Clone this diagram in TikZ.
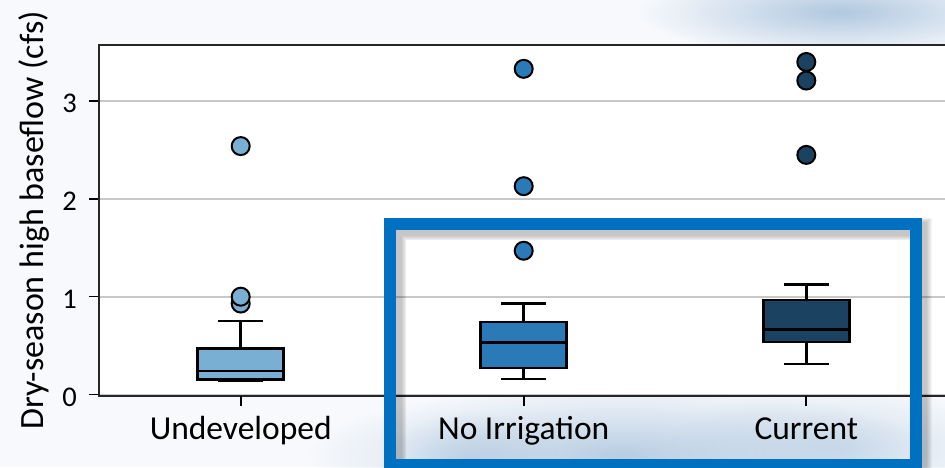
\documentclass[tikz,border=0pt]{standalone}
\usepackage{fontspec}
\usetikzlibrary{fadings}
\setmainfont{Carlito}
\definecolor{bgc}{HTML}{F7F9FC}
\definecolor{mapblue}{HTML}{A9C3DD}
\definecolor{undev}{HTML}{7AAFD4}
\definecolor{noirr}{HTML}{2A7AB8}
\definecolor{curr}{HTML}{1B4361}
\definecolor{hl}{HTML}{0070C0}
\definecolor{gridc}{HTML}{C8C8C8}
\tikzfading[name=blobfade, inner color=transparent!0, outer color=transparent!100]
\newcommand{\boxplt}[7]{%
  \draw[whisk] (#1,#2) -- (#1,#3);
  \draw[whisk] (#1-22.5,#2) -- (#1+22.5,#2);
  \draw[whisk] (#1,#5) -- (#1,#6);
  \draw[whisk] (#1-22.5,#6) -- (#1+22.5,#6);
  \filldraw[boxst, fill=#7] (#1-43,#3) rectangle (#1+43,#5);
  \draw[boxst] (#1-43,#4) -- (#1+43,#4);
}
\begin{document}
\begin{tikzpicture}[x=1pt,y=1pt,
  boxst/.style={draw=black, line width=2.5pt},
  whisk/.style={draw=black, line width=2.5pt},
  outl/.style={draw=black, line width=2pt},
  ticklab/.style={font=\fontsize{28.5}{30}\selectfont, anchor=base east, inner sep=0pt},
  catlab/.style={font=\fontsize{33.5}{36}\selectfont, anchor=base, inner sep=0pt},
  spine/.style={draw=black!85, line width=2pt},
  hlframe/.style={draw=hl, line width=12pt},
  mapblob/.style={fill=mapblue, path fading=blobfade},
]
\useasboundingbox (0,0) rectangle (945,467);
\clip (0,0) rectangle (945,467);
\fill[bgc] (0,0) rectangle (945,467);
% faint map texture in the background
\fill[mapblob, fill opacity=0.9] (840,455) ellipse (200 and 45);
\fill[mapblob, fill opacity=0.8] (620,12) ellipse (310 and 70);
\fill[mapblob, fill opacity=0.6] (470,5) ellipse (90 and 50);
\fill[mapblob, fill opacity=0.5] (840,20) ellipse (170 and 60);
% plot area
\fill[white] (99,71.5) rectangle (945,422);
\begin{scope}[shift={(0,72.5)}, y=97.8pt]
  \foreach \v in {0,1,2,3}{
    \draw[gridc, line width=2pt] (99,\v) -- (945,\v);
    \draw[black, line width=1.5pt] (89,\v) -- (99,\v);
    \node[ticklab] (t\v) at (77,\v) [yshift=-11.6pt] {\v};
  }
  % Undeveloped
  \boxplt{240.7}{0.14}{0.155}{0.24}{0.47}{0.75}{undev}
  \filldraw[outl, fill=undev] (240.7,0.93) circle[radius=9pt];
  \filldraw[outl, fill=undev] (240.7,1.00) circle[radius=9pt];
  \filldraw[outl, fill=undev] (240.7,2.54) circle[radius=9pt];
  % No Irrigation
  \boxplt{523.7}{0.16}{0.27}{0.53}{0.74}{0.93}{noirr}
  \filldraw[outl, fill=noirr] (523.7,1.47) circle[radius=9pt];
  \filldraw[outl, fill=noirr] (523.7,2.13) circle[radius=9pt];
  \filldraw[outl, fill=noirr] (523.7,3.33) circle[radius=9pt];
  % Current
  \boxplt{806.3}{0.31}{0.535}{0.665}{0.968}{1.125}{curr}
  \filldraw[outl, fill=curr] (806.3,2.45) circle[radius=9pt];
  \filldraw[outl, fill=curr] (806.3,3.21) circle[radius=9pt];
  \filldraw[outl, fill=curr] (806.3,3.40) circle[radius=9pt];
\end{scope}
% spines
\draw[spine] (99,71.5) -- (99,422) -- (945,422);
\draw[spine] (98,71.5) -- (945,71.5);
% x ticks and category labels
\foreach \x in {240.7,523.7,806.3}{
  \draw[black, line width=2pt] (\x,71.5) -- (\x,61);
}
\node[catlab] (c1) at (240.7,28) {Undeveloped};
\node[catlab] (c2) at (523.7,28) {No Irrigation};
\node[catlab] (c3) at (806.3,28) {Current};
% y axis label
\node[font=\fontsize{34}{36}\selectfont, rotate=90, anchor=base, inner sep=0pt] (ylab) at (43.5,246.5) {Dry-season high baseflow (cfs)};
% highlight frame with soft shadow
\foreach \i in {1,...,6}{
  \draw[black, opacity=0.04, line width={12+1.8*\i}] (395,-3) rectangle (920.5,238);
}
\draw[hlframe] (390,2) rectangle (915.5,243);
\end{tikzpicture}
\end{document}
